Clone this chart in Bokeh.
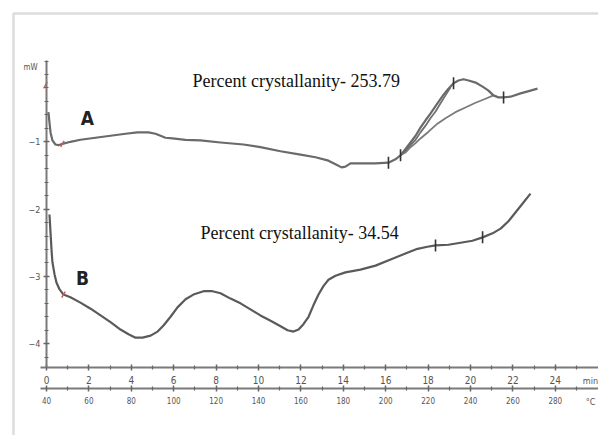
import numpy as np
from bokeh.plotting import figure
from bokeh.models import Range1d, LinearAxis, FixedTicker, BoxAnnotation
from bokeh.core.properties import value
from bokeh.embed import file_html
from bokeh.resources import INLINE

# ---- axes: run time (min), furnace temperature (°C), heat flow (mW) ----
min_ticks = list(range(0, 25, 2))
min_minor = list(range(1, 26, 2))
temp_ticks = [40 + 10 * t for t in min_ticks]
temp_minor = [40 + 10 * t for t in min_minor]
mw_ticks = [-4, -3, -2, -1]

# ---- sample A thermogram ----
a_time = [0.09, 0.14, 0.19, 0.28, 0.42, 0.57, 0.75, 1.13, 1.60, 2.31, 3.02,
          3.73, 4.29, 4.81, 5.14, 5.38, 5.61, 5.94, 6.56, 7.26, 8.21, 9.29,
          10.09, 11.04, 11.98, 12.69, 13.30, 13.68, 13.92, 14.10, 14.34,
          14.81, 15.52, 16.13, 16.46, 16.70, 16.93, 17.17, 17.41, 17.64,
          17.88, 18.11, 18.44, 18.73, 18.96, 19.20, 19.43, 19.67, 19.91,
          20.24, 20.57, 20.85, 21.08, 21.32, 21.56, 21.89, 22.36, 22.83, 23.16]
a_mw = [-0.56, -0.71, -0.86, -0.98, -1.04, -1.05, -1.03, -1.00, -0.97, -0.94,
        -0.91, -0.88, -0.86, -0.86, -0.88, -0.91, -0.94, -0.95, -0.97, -0.98,
        -1.01, -1.04, -1.08, -1.14, -1.19, -1.23, -1.28, -1.34, -1.38, -1.37,
        -1.32, -1.32, -1.32, -1.31, -1.26, -1.20, -1.11, -1.01, -0.91, -0.79,
        -0.68, -0.58, -0.43, -0.30, -0.21, -0.13, -0.09, -0.07, -0.09, -0.12,
        -0.18, -0.24, -0.31, -0.34, -0.34, -0.33, -0.28, -0.24, -0.21]
# repeat run trace over the exotherm
a2_time = [16.70, 16.93, 17.17, 17.41, 17.64, 17.88, 18.11, 18.35, 18.58, 18.82, 19.06]
a2_mw = [-1.20, -1.13, -1.05, -0.97, -0.86, -0.76, -0.65, -0.55, -0.43, -0.31, -0.19]
# integration baseline under the peak
a_base_time = [16.70, 16.93, 17.17, 17.41, 17.64, 18.02, 18.44, 18.82, 19.29,
               19.76, 20.24, 20.71, 21.08]
a_base_mw = [-1.20, -1.16, -1.08, -1.02, -0.95, -0.85, -0.73, -0.65, -0.56,
             -0.49, -0.42, -0.36, -0.31]
# integration limit marks
a_mark_time = [16.13, 16.70, 19.20, 21.56]
a_mark_mw = [-1.31, -1.20, -0.13, -0.34]

# ---- sample B thermogram ----
b_time = [0.14, 0.19, 0.24, 0.28, 0.38, 0.47, 0.61, 0.80, 1.13, 1.60, 2.08,
          2.55, 3.02, 3.49, 3.87, 4.20, 4.53, 4.91, 5.24, 5.52, 5.85, 6.18,
          6.56, 6.93, 7.41, 7.83, 8.21, 8.68, 9.15, 9.62, 10.09, 10.57, 11.04,
          11.37, 11.65, 11.89, 12.12, 12.36, 12.59, 12.83, 13.07, 13.30,
          13.63, 14.10, 14.81, 15.52, 16.23, 16.93, 17.50, 17.97, 18.35,
          18.96, 19.53, 20.09, 20.57, 21.04, 21.42, 21.79, 22.12, 22.45, 22.83]
b_mw = [-2.08, -2.35, -2.62, -2.79, -2.97, -3.09, -3.19, -3.27, -3.31, -3.39,
        -3.48, -3.58, -3.68, -3.79, -3.86, -3.91, -3.91, -3.88, -3.82, -3.73,
        -3.60, -3.46, -3.34, -3.27, -3.22, -3.22, -3.25, -3.33, -3.40, -3.49,
        -3.58, -3.66, -3.74, -3.80, -3.82, -3.79, -3.71, -3.60, -3.43, -3.27,
        -3.14, -3.05, -2.99, -2.94, -2.90, -2.84, -2.75, -2.66, -2.59, -2.56,
        -2.54, -2.53, -2.50, -2.47, -2.42, -2.36, -2.29, -2.18, -2.05, -1.92, -1.77]
b_mark_time = [18.35, 20.57]
b_mark_mw = [-2.54, -2.42]

# start-of-run markers
red_time = [-0.05, 0.75, 0.80]
red_mw = [-0.16, -1.03, -3.27]

# ---- annotations ----
curve_names = ["A", "B"]
name_time = [1.93, 1.70]
name_mw = [-0.64, -3.02]
crys_texts = ["Percent crystallanity- 253.79", "Percent crystallanity- 34.54"]
crys_time = [6.89, 7.26]
crys_mw = [-0.09, -2.36]

# page geometry: 0 min sits 46 px from the left, 21.2 px per minute;
# 0 mW sits 74 px from the top, 67.3 px per mW
PX_MIN, PX_MW = 21.2, 67.3
W, H = 598, 435
x0, x1 = -46 / PX_MIN, (W - 46) / PX_MIN
y1, y0 = 74 / PX_MW, -(H - 74) / PX_MW
ax_min_y = -(367 - 74) / PX_MW
ax_temp_y = -(388 - 74) / PX_MW

p = figure(width=W, height=H, output_backend="svg", toolbar_location=None,
           x_range=Range1d(x0, x1), y_range=Range1d(y0, y1),
           x_axis_type=None, y_axis_type=None, min_border=0,
           background_fill_color="white", border_fill_color="white")
p.outline_line_color = None
p.xgrid.visible = False
p.ygrid.visible = False
p.extra_x_ranges = {"temp": Range1d(40 + 10 * x0, 40 + 10 * x1)}

# picture frame (left and top edges)
p.add_layout(BoxAnnotation(left=-33 / PX_MIN, top=61 / PX_MW, right=x1 + 5, bottom=y0 - 5,
                           fill_color=None, line_color="#8a8a8a", line_width=2.5))

AX_COLOR = "#7a7a7a"
LBL_FONT = "'DejaVu Sans Condensed', 'Liberation Sans', sans-serif"


def style_axis(ax, size):
    ax.axis_line_color = AX_COLOR
    ax.axis_line_width = 2
    ax.major_tick_line_color = "#666666"
    ax.minor_tick_line_color = "#666666"
    ax.major_tick_line_width = 1.5
    ax.minor_tick_line_width = 1.2
    ax.major_tick_in = 3
    ax.major_tick_out = 3
    ax.minor_tick_in = 2
    ax.minor_tick_out = 2
    ax.major_label_text_font = LBL_FONT
    ax.major_label_text_font_size = size
    ax.major_label_text_color = "#555555"


yax = LinearAxis(fixed_location=0, bounds=(ax_min_y, 0.21),
                 ticker=FixedTicker(ticks=mw_ticks,
                                    minor_ticks=list(np.round(np.arange(-4.2, 0.21, 0.2), 1))))
style_axis(yax, "9px")
yax.major_label_standoff = 3
p.add_layout(yax, "left")

xax = LinearAxis(fixed_location=ax_min_y, bounds=(-0.3, x1),
                 ticker=FixedTicker(ticks=min_ticks, minor_ticks=min_minor))
style_axis(xax, "10px")
xax.major_label_standoff = 5
p.add_layout(xax, "below")

tax = LinearAxis(x_range_name="temp", fixed_location=ax_temp_y, bounds=(37, 40 + 10 * x1),
                 ticker=FixedTicker(ticks=temp_ticks, minor_ticks=temp_minor))
style_axis(tax, "8px")
tax.major_label_standoff = 5
p.add_layout(tax, "below")

# unit captions
p.text(x=[-0.75], y=[0.10], text=["mW"], text_font=value(LBL_FONT), text_font_size="8px",
       text_color="#555555", text_align="center", text_baseline="middle")
p.text(x=[25.66, 25.66], y=[-4.55, -4.86], text=["min", "°C"], text_font=value(LBL_FONT),
       text_font_size="9px", text_color="#555555", text_align="center", text_baseline="middle")

# curves
p.line(a_base_time, a_base_mw, line_color="#7a7a7a", line_width=1.8, line_join="round")
p.line(a2_time, a2_mw, line_color="#707070", line_width=1.8, line_join="round")
p.line(a_time, a_mw, line_color="#6a6a6a", line_width=2.2, line_join="round")
p.line(b_time, b_mw, line_color="#5a5a5a", line_width=2.2, line_join="round")

# integration limits
p.scatter(a_mark_time + b_mark_time, a_mark_mw + b_mark_mw, marker="dash", angle=np.pi / 2,
          size=12, line_color="#333333", line_width=1.6)
p.scatter(red_time, red_mw, marker="dash", angle=np.pi / 3, size=7,
          line_color="#c85a5a", line_width=1.5)

# labels
p.text(x=name_time, y=name_mw, text=curve_names,
       text_font=value("'DejaVu Sans Condensed', 'DejaVu Sans', sans-serif"),
       text_font_style="bold", text_font_size="19px", text_color="#222222",
       text_align="center", text_baseline="middle")
p.text(x=crys_time, y=crys_mw, text=crys_texts, text_font=value("Liberation Serif"),
       text_font_size="18px", text_color="#111111", text_align="left", text_baseline="middle")

open("out.html", "w").write(file_html(p, INLINE))
